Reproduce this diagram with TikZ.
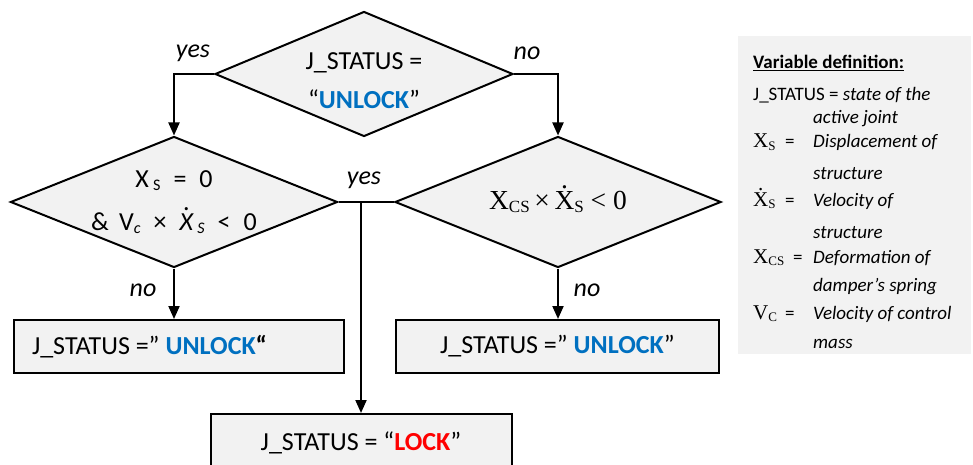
\documentclass[tikz,border=0pt]{standalone}
\usepackage{fontspec}
\setmainfont{Carlito}
\newfontfamily\serifsym{Liberation Serif}
\usetikzlibrary{shapes.geometric,arrows.meta}
\definecolor{boxgray}{HTML}{F2F2F2}
\definecolor{unlockblue}{HTML}{0070C0}
\definecolor{lockred}{HTML}{FF0000}
\newcommand\lowsub[1]{\raisebox{-0.3ex}{\scalebox{0.62}{#1}}}
\newcommand\dotover[1]{\ooalign{#1\cr\hidewidth\raisebox{0.74em}{.}\hidewidth\cr}}
\newcommand\unlock{\textcolor{unlockblue}{\textbf{UNLOCK}}}
\tikzset{
  decision/.style={diamond,draw,line width=2pt,fill=boxgray,inner sep=-4pt,
    align=center,font=\fontsize{26}{39}\selectfont},
  statebox/.style={rectangle,draw,line width=2pt,fill=boxgray,minimum height=53pt,
    font=\fontsize{26}{31}\selectfont},
  flow/.style={line width=2pt,-{Triangle[width=11pt,length=13pt]}},
  answer/.style={font=\fontsize{26}{31}\selectfont\itshape},
  legtext/.style={anchor=base west,inner sep=0pt,font=\fontsize{19}{23}\selectfont},
  legsym/.style={anchor=base west,inner sep=0pt,font=\fontsize{21}{24}\serifsym},
}
\begin{document}
\begin{tikzpicture}[x=1pt,y=-1pt]
  \useasboundingbox (0,0) rectangle (973,465);
  \clip (0,0) rectangle (973,465);
  % decisions
  \node[decision,aspect=2.38,minimum width=298pt,minimum height=125pt] (jstatus) at (364,74)
    {\rule{0pt}{30pt}J\_STATUS =\\“\unlock”};
  \node[decision,aspect=2.5,minimum width=327pt,minimum height=131pt,
    font=\fontsize{26}{43}\selectfont] (atzero) at (174,202)
    {X\,\lowsub{S}\enspace=\enspace0\\\& \,V\lowsub{\itshape c}\enspace×\enspace\dotover{\itshape X}\,\lowsub{\itshape S}\enspace<\enspace0};
  \node[decision,aspect=2.5,minimum width=326pt,minimum height=131pt] (cross) at (558,202)
    {{\serifsym\fontsize{27.5}{31}\selectfont X\lowsub{CS}\,×\,\dotover{X}\lowsub{S} < 0}};
  % outcomes
  \node[statebox,minimum width=330pt] (unlockL) at (179,346.5)
    {\makebox[294pt][l]{J\_STATUS =” \unlock\textbf{“}}};
  \node[statebox,minimum width=323pt] (unlockR) at (557.5,346.5) {J\_STATUS =” \unlock”};
  \node[statebox,minimum width=301pt,minimum height=57pt] (lock) at (361,442.5)
    {J\_STATUS = “\textcolor{lockred}{\textbf{LOCK}}”};
  % connectors
  \coordinate (split) at (361,202);
  \draw[flow] (jstatus.west) -| (atzero.north);
  \draw[flow] (jstatus.east) -| (cross.north);
  \draw[line width=2pt] (atzero.east) -- (cross.west);
  \draw[flow] (split) -- (lock.north);
  \draw[flow] (atzero.south) -- (atzero.south |- unlockL.north);
  \draw[flow] (cross.south) -- (cross.south |- unlockR.north);
  \node[answer] (yesL) at (193,53) {yes};
  \node[answer] (noR) at (527,53) {no};
  \node[answer] (yesM) at (364,180) {yes};
  \node[answer] (noL) at (143,290) {no};
  \node[answer] (noM) at (587,290) {no};
  % legend
  \node[fill=boxgray,minimum width=233pt,minimum height=318pt] (legend) at (854.5,195) {};
  \node[legtext] (deftitle) at (753,69) {\underline{\textbf{Variable definition:}}};
  \node[legtext] (defjs) at (753,101) {J\_STATUS = \textit{state of the}};
  \node[legtext] (defjsb) at (813,124) {\textit{active joint}};
  \node[legsym] (symxs) at (753,148) {X\lowsub{S}};
  \node[legtext] (eqxs) at (785,148) {=};
  \node[legtext] (defxs) at (813,148) {\textit{Displacement of}};
  \node[legtext] (defxsb) at (813,179) {\textit{structure}};
  \node[legsym] (symvs) at (753,206) {\dotover{X}\lowsub{S}};
  \node[legtext] (eqvs) at (785,206) {=};
  \node[legtext] (defvs) at (813,206) {\textit{Velocity of}};
  \node[legtext] (defvsb) at (813,238) {\textit{structure}};
  \node[legsym] (symxcs) at (753,263) {X\lowsub{CS}};
  \node[legtext] (eqxcs) at (793,263) {=};
  \node[legtext] (defxcs) at (813,263) {\textit{Deformation of}};
  \node[legtext] (defxcsb) at (813,291) {\textit{damper’s spring}};
  \node[legsym] (symvc) at (753,319) {V\lowsub{C}};
  \node[legtext] (eqvc) at (785,319) {=};
  \node[legtext] (defvc) at (813,319) {\textit{Velocity of control}};
  \node[legtext] (defvcb) at (813,348) {\textit{mass}};
\end{tikzpicture}
\end{document}
